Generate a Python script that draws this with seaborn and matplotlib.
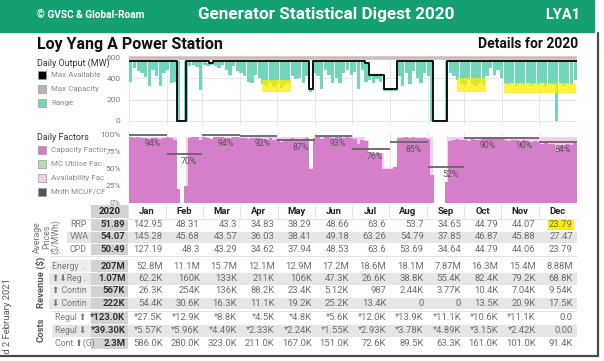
import numpy as np
import matplotlib
matplotlib.use('Agg')
import matplotlib.pyplot as plt
from matplotlib.patches import Rectangle
import seaborn as sns

# ---------------- data ----------------
month_names = ['Jan', 'Feb', 'Mar', 'Apr', 'May', 'Jun', 'Jul', 'Aug', 'Sep', 'Oct', 'Nov', 'Dec']
month_days = [31, 29, 31, 30, 31, 30, 31, 31, 30, 31, 30, 31]

# max available (MW): day of year where the step changes, value from that day
avail_day = [0, 39.5, 46.5, 65, 69, 147, 150, 193, 196, 208, 219, 248, 260, 366]
avail_mw = [565, 0, 565, 545, 565, 300, 565, 540, 430, 300, 565, 0, 565, 565]
max_capacity = 590

# daily output range (MW), 3-day bins through the year
range_high = [565, 565, 565, 565, 565, 565, 565, 565, 565, 565,
              565, 565, 565, 565, 0, 565, 565, 565, 565, 565,
              565, 545, 545, 565, 565, 565, 565, 565, 565, 565,
              565, 565, 565, 565, 565, 565, 565, 565, 565, 565,
              565, 565, 565, 565, 565, 565, 565, 565, 565, 300,
              565, 565, 565, 565, 565, 565, 565, 565, 565, 565,
              565, 565, 565, 565, 540, 430, 430, 430, 430, 300,
              300, 300, 300, 565, 565, 565, 565, 565, 565, 565,
              565, 565, 565, 0, 0, 0, 565, 565, 565, 565,
              565, 565, 565, 565, 565, 565, 565, 565, 565, 565,
              565, 565, 565, 565, 565, 565, 565, 565, 565, 565,
              565, 565, 565, 565, 565, 565, 565, 565, 565, 565,
              565, 565]
range_low = [370, 500, 470, 450, 415, 330, 480, 420, 330, 450,
             480, 355, 370, 0, 0, 0, 520, 530, 510, 290,
             530, 520, 530, 520, 500, 530, 480, 430, 520, 470,
             450, 420, 370, 355, 430, 400, 350, 330, 360, 320,
             350, 310, 340, 360, 420, 390, 400, 355, 420, 275,
             450, 420, 297, 480, 430, 360, 400, 355, 450, 480,
             430, 460, 297, 480, 370, 380, 360, 390, 370, 285,
             280, 285, 280, 420, 330, 450, 350, 470, 400, 360,
             450, 420, 0, 0, 0, 0, 0, 450, 420, 380,
             350, 340, 380, 350, 330, 360, 340, 420, 500, 430,
             480, 400, 350, 340, 360, 330, 350, 340, 360, 330,
             350, 340, 360, 330, 350, 340, 0, 360, 330, 350,
             340, 380]

# daily capacity factor (%), same 3-day bins
cap_factor = [96, 95, 96, 95, 94, 93, 95, 94, 93, 95,
              96, 95, 92, 20, 0, 25, 95, 96, 96, 92,
              96, 95, 93, 96, 96, 96, 95, 95, 96, 96,
              95, 94, 93, 94, 95, 94, 93, 92, 94, 92,
              93, 88, 92, 93, 94, 93, 90, 93, 94, 50,
              95, 96, 93, 96, 96, 95, 96, 96, 95, 96,
              95, 93, 85, 92, 90, 73, 72, 73, 72, 50,
              49, 50, 52, 94, 95, 96, 95, 96, 95, 94,
              95, 93, 40, 0, 0, 0, 30, 90, 92, 93,
              91, 92, 90, 93, 92, 91, 93, 94, 95, 94,
              95, 93, 92, 90, 91, 92, 89, 91, 90, 88,
              90, 89, 86, 88, 85, 86, 75, 84, 82, 86,
              84, 87]

# monthly MCUF line (%) and monthly CF label
month_mcuf = [98, 71, 98, 97, 91, 97, 78, 89, 52, 95, 95, 88]
month_cf = ['94%', '70%', '94%', '92%', '87%', '93%', '76%', '85%', '52%', '90%', '90%', '84%']

# yellow highlight boxes on the output chart: (day from, day to, MW from, MW to)
highlights = [(109, 132, 275, 380), (268, 292, 275, 400), (306, 365, 262, 355)]

# table
price_labels = ['RRP', 'VWA', 'CPD']
price_year = ['51.89', '54.07', '50.49']
rrp = ['142.95', '48.31', '43.3', '34.83', '38.29', '48.66', '63.6', '53.7', '34.65', '44.79', '44.07', '23.79']
vwa = ['145.28', '45.68', '43.57', '36.03', '38.41', '49.18', '63.26', '54.79', '37.85', '46.87', '45.88', '27.47']
cpd = ['127.19', '48.3', '43.29', '34.62', '37.94', '48.53', '63.6', '53.69', '34.64', '44.79', '44.06', '23.79']

rev_labels = ['Energy  .', '\u2b06\u2b07Reg .', '\u2b06 Contin', '\u2b07 Contin']
rev_year = ['207M', '1.07M', '567K', '222K']
energy = ['52.8M', '11.1M', '15.7M', '12.1M', '12.9M', '17.2M', '18.6M', '18.1M', '7.87M', '16.3M', '15.4M', '8.88M']
reg = ['62.2K', '160K', '133K', '211K', '106K', '47.3K', '26.6K', '38.8K', '55.4K', '82.4K', '79.2K', '68.8K']
contin_up = ['26.3K', '254K', '136K', '88.2K', '23.4K', '5.12K', '987', '2.44K', '3.77K', '10.4K', '7.04K', '9.54K']
contin_dn = ['54.4K', '30.6K', '16.3K', '11.1K', '19.2K', '25.2K', '13.4K', '0', '0', '13.5K', '20.9K', '17.5K']

cost_labels = ['Regul \u2b06', 'Regul \u2b07', 'Cont \u2b06(G)']
cost_year = ['*123.0K', '*39.30K', '2.3M']
regul_up = ['*27.5K', '*12.9K', '*8.8K', '*4.5K', '*4.8K', '*5.6K', '*12.0K', '*13.9K', '*11.1K', '*10.6K', '*11.1K', '0.0']
regul_dn = ['*5.57K', '*5.96K', '*4.49K', '*2.33K', '*2.24K', '*1.55K', '*2.93K', '*3.78K', '*4.89K', '*3.15K', '*2.42K', '0.00']
cont_g = ['586.0K', '280.0K', '323.0K', '211.0K', '167.0K', '151.0K', '72.6K', '89.5K', '63.3K', '161.0K', '101.0K', '91.4K']

# ---------------- style ----------------
sns.set_theme(style='white')
plt.rcParams['font.family'] = ['Roboto', 'DejaVu Sans']

GREEN = '#14a070'
TEAL = '#72d6bb'
PINK = '#d57fcb'
LPINK = '#f9cbec'
LGREEN = '#b6ddb1'
GREY_TXT = '#6e6e6e'

fig = plt.figure(figsize=(6.04, 3.61), dpi=100)

# full-figure axes in pixel coordinates for header, legends and table
bg = fig.add_axes([0, 0, 1, 1])
bg.set_xlim(0, 604)
bg.set_ylim(361, 0)
bg.axis('off')


def px_axes(x0, y0, x1, y1):
    return fig.add_axes([x0 / 604, 1 - y1 / 361, (x1 - x0) / 604, (y1 - y0) / 361])


# header
bg.add_patch(Rectangle((0, 0), 594, 32, color=GREEN, zorder=1))
bg.text(37, 15, '\u00a9 GVSC & Global-Roam', color='white', fontsize=7.3, fontweight='bold', va='center')
bg.text(326, 15, 'Generator Statistical Digest 2020', color='white', fontsize=12.3, fontweight='bold',
        va='center', ha='center')
bg.text(580, 15, 'LYA1', color='white', fontsize=10.5, fontweight='bold', va='center', ha='right')
bg.text(37, 44, 'Loy Yang A Power Station', color='#111111', fontsize=11.5, fontweight='bold', va='center')
bg.text(578, 44, 'Details for 2020', color='#111111', fontsize=10, fontweight='bold', va='center', ha='right')

# legends
LEG_FS = 5.8
bg.text(37, 63, 'Daily Output (MW)', fontsize=6.5, color='#333333', va='center')
for y, lab, col in [(75, 'Max Available', 'black'), (89, 'Max Capacity', '#bdb2ae'), (103, 'Range', TEAL)]:
    bg.add_patch(Rectangle((38, y - 4), 8, 8, facecolor=col, edgecolor='#999999', lw=0.5))
    bg.text(51, y, lab, fontsize=LEG_FS, color='#8a8a8a', va='center')

bg.text(37, 138, 'Daily Factors', fontsize=6.5, color='#333333', va='center')
for y, lab, col in [(150, 'Capacity Factor', PINK), (164, 'MC Utilise Fac', LGREEN),
                    (178, 'Availability Fac', LPINK), (192, 'Mnth MCUF/CF', '#555555')]:
    bg.add_patch(Rectangle((38, y - 4), 8, 8, facecolor=col, edgecolor='#999999', lw=0.5))
    bg.text(51, y, lab, fontsize=LEG_FS, color='#8a8a8a', va='center')

month_start = np.concatenate([[0], np.cumsum(month_days)[:-1]])
bin_center = np.arange(len(range_low)) * 3 + 1.5

# ---------------- daily output chart ----------------
ax1 = px_axes(129, 55, 577, 125)
ax1.set_facecolor('none')
ax1.axhline(max_capacity, color='#c9bfbc', lw=2.6, zorder=1)
ax1.bar(bin_center, np.array(range_high) - np.array(range_low), bottom=range_low,
        width=2.7, color=TEAL, linewidth=0, zorder=2)
for d0, d1, m0, m1 in highlights:
    ax1.add_patch(Rectangle((d0, m0), d1 - d0, m1 - m0, color='#ffee00', alpha=0.75, lw=0, zorder=3))
sns.lineplot(x=avail_day, y=avail_mw, drawstyle='steps-post', color='#111111', lw=1.4, ax=ax1, zorder=4)
ax1.set_xlim(0, 366)
ax1.set_ylim(-40, 620)
ax1.set_yticks([0, 200, 400, 600])
ax1.set_xticks(month_start)
ax1.set_xticklabels([])
ax1.grid(True, color='#e6e6e6', lw=0.7)
ax1.tick_params(axis='y', labelsize=6, colors='#7a7a7a', length=0, pad=6)
ax1.tick_params(axis='x', length=0)
ax1.set_xlabel('')
ax1.set_ylabel('')
for s in ax1.spines.values():
    s.set_visible(False)

# ---------------- daily factors chart ----------------
ax2 = px_axes(129, 132, 577, 203)
ax2.set_facecolor('none')
ax2.fill_between(avail_day, 0, np.array(avail_mw) / max_capacity * 100, step='post',
                 color=LPINK, lw=0, zorder=1)
sns.barplot(x=bin_center, y=cap_factor, native_scale=True, width=1, color=PINK, saturation=1,
            linewidth=0, errorbar=None, ax=ax2, zorder=2)
for i in range(12):
    d0 = month_start[i]
    d1 = d0 + month_days[i]
    ax2.hlines(month_mcuf[i], d0, d1, color='#666666', lw=1.3, zorder=4)
    ax2.text(d0 + month_days[i] * 0.62, month_mcuf[i] - 11, month_cf[i], fontsize=6.3,
             color='#555555', ha='center', va='center', zorder=5)
ax2.set_xlim(0, 366)
ax2.set_ylim(0, 103)
ax2.set_yticks([0, 25, 50, 75, 100])
ax2.set_yticklabels(['0%', '25%', '50%', '75%', '100%'])
ax2.set_xticks(month_start)
ax2.set_xticklabels([])
ax2.grid(True, axis='x', color='#e6e6e6', lw=0.7)
ax2.tick_params(axis='y', labelsize=6, colors='#7a7a7a', length=0, pad=6)
ax2.tick_params(axis='x', length=0)
ax2.set_xlabel('')
ax2.set_ylabel('')
for s in ax2.spines.values():
    s.set_visible(False)

# ---------------- table ----------------
col_x0 = 91
col_w = 37.3
lab_x0 = 50
YEAR_BG = '#d2d2d2'
ROW_BG = '#e6e6e6'
VAL_FS = 6.8


def col_right(i):
    return col_x0 + col_w * (i + 2) - 3


# header row
bg.add_patch(Rectangle((col_x0, 205), col_w, 13, color=YEAR_BG, lw=0))
bg.text(col_x0 + col_w / 2, 211.5, '2020', fontsize=VAL_FS, fontweight='bold', color='#222222',
        ha='center', va='center')
for i, m in enumerate(month_names):
    x0 = col_x0 + col_w * (i + 1)
    bg.plot([x0, x0], [205, 218], color='#dddddd', lw=0.6)
    bg.text(x0 + col_w / 2, 211.5, m, fontsize=VAL_FS, fontweight='bold', color='#222222',
            ha='center', va='center')
bg.plot([lab_x0 + 20, 577], [218.5, 218.5], color='#dddddd', lw=0.6)


def draw_block(y0, h, labels, year_vals, rows, label_x, shaded, label_bg=None):
    for r, (lab, yv, vals) in enumerate(zip(labels, year_vals, rows)):
        top = y0 + r * h
        yc = top + h / 2
        if label_bg:
            bg.add_patch(Rectangle((lab_x0, top), col_x0 - lab_x0, h, color=label_bg, lw=0, zorder=0.5))
        if r in shaded:
            bg.add_patch(Rectangle((label_x - 3, top), 577 - label_x + 3, h, color=ROW_BG, lw=0, zorder=0.6))
        bg.add_patch(Rectangle((col_x0, top), col_w, h, color=YEAR_BG, lw=0, zorder=0.7))
        bg.plot([label_x - 3, 577], [top + h, top + h], color='white', lw=0.6, zorder=0.8)
        bg.text(label_x, yc, lab, fontsize=6.3, color='#7a7a7a', ha='left', va='center')
        bg.text(col_right(-1), yc, yv, fontsize=VAL_FS, fontweight='bold', color='#333333',
                ha='right', va='center')
        for i, v in enumerate(vals):
            bg.text(col_right(i), yc, v, fontsize=VAL_FS, color=GREY_TXT, ha='right', va='center', zorder=2)


# Dec RRP highlight
bg.add_patch(Rectangle((col_x0 + col_w * 12 + 9, 219.5), col_w - 11, 10, color='#ffee00', lw=0, zorder=1))

draw_block(218.5, 12.3, price_labels, price_year, [rrp, vwa, cpd], 70, [1])
bg.plot([lab_x0, 577], [256, 256], color='#dddddd', lw=0.6)
draw_block(260, 12.3, rev_labels, rev_year, [energy, reg, contin_up, contin_dn], 52, [1, 3], label_bg='#eeeeee')
bg.plot([lab_x0, 577], [310.5, 310.5], color='#dddddd', lw=0.6)
draw_block(311, 12.8, cost_labels, cost_year, [regul_up, regul_dn, cont_g], 55, [1])

# section titles
bg.text(47, 237, 'Average\nPrices\n($/MWh)', fontsize=6.3, color='#777777', rotation=90,
        ha='center', va='center', multialignment='center', linespacing=1.0)
bg.text(41, 282, 'Revenue ($)', fontsize=6.8, fontweight='bold', color='#555555', rotation=90,
        ha='center', va='center')
bg.text(41, 330, 'Costs', fontsize=6.8, fontweight='bold', color='#555555', rotation=90,
        ha='center', va='center')
bg.text(8, 278, 'Released 2 February 2021', fontsize=6.8, color='#555555', rotation=90,
        ha='center', va='top')

# frame shadow
bg.add_patch(Rectangle((0, 356), 604, 6, color='white', lw=0, zorder=5))
bg.add_patch(Rectangle((599, 0), 6, 361, color='white', lw=0, zorder=5))
bg.plot([0, 598], [355.5, 355.5], color='#4a4a4a', lw=1.6, zorder=6)
bg.plot([597.5, 597.5], [33, 356], color='#4a4a4a', lw=1.6, zorder=6)

fig.savefig('out.png', dpi=100)
